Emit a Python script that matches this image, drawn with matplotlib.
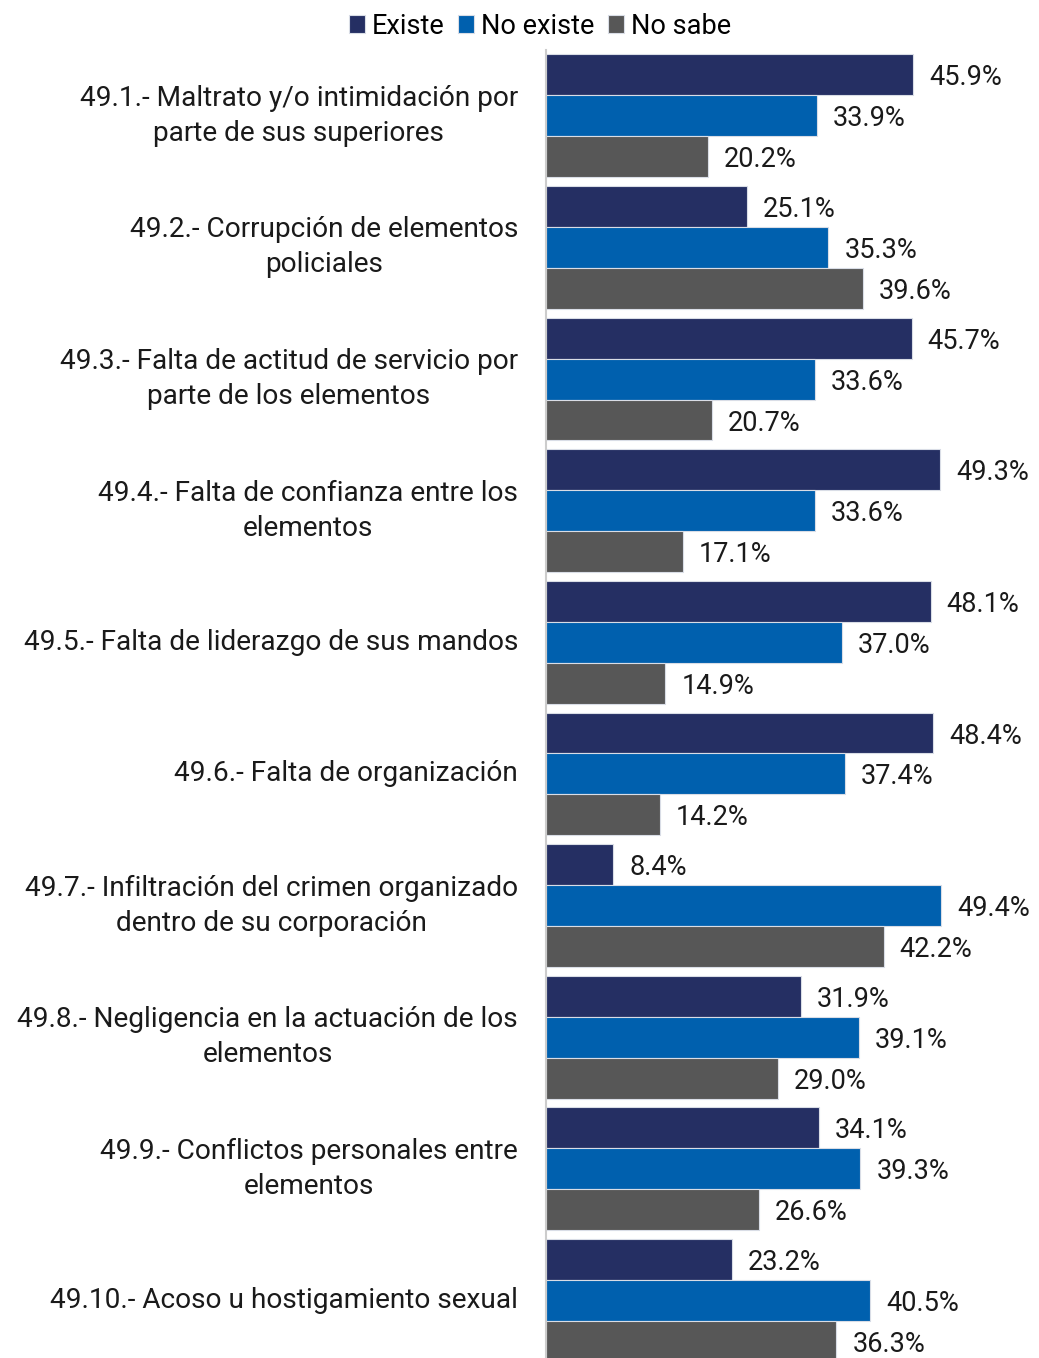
import matplotlib.pyplot as plt
import numpy as np

categories = [
    '49.1.- Maltrato y/o intimidación por\nparte de sus superiores',
    '49.2.- Corrupción de elementos\npoliciales',
    '49.3.- Falta de actitud de servicio por\nparte de los elementos',
    '49.4.- Falta de confianza entre los\nelementos',
    '49.5.- Falta de liderazgo de sus mandos',
    '49.6.- Falta de organización',
    '49.7.- Infiltración del crimen organizado\ndentro de su corporación',
    '49.8.- Negligencia en la actuación de los\nelementos',
    '49.9.- Conflictos personales entre\nelementos',
    '49.10.- Acoso u hostigamiento sexual',
]
existe = [45.9, 25.1, 45.7, 49.3, 48.1, 48.4, 8.4, 31.9, 34.1, 23.2]
no_existe = [33.9, 35.3, 33.6, 33.6, 37.0, 37.4, 49.4, 39.1, 39.3, 40.5]
no_sabe = [20.2, 39.6, 20.7, 17.1, 14.9, 14.2, 42.2, 29.0, 26.6, 36.3]

series = [('Existe', existe, '#252F63'),
          ('No existe', no_existe, '#0060AE'),
          ('No sabe', no_sabe, '#575757')]

plt.rcParams['font.family'] = ['Roboto', 'DejaVu Sans']
FS = 19.5

W, H = 1039, 1358
fig = plt.figure(figsize=(W / 100, H / 100), dpi=100)
ax = fig.add_axes([546 / W, 0, (W - 546) / W, (H - 50) / H])

y = np.arange(len(categories))
h = 0.311
for k, (name, vals, col) in enumerate(series):
    pos = y + (k - 1) * h
    ax.barh(pos, vals, height=h, color=col, edgecolor='#d9dde6',
            linewidth=0.8, label=name)
    for p, v in zip(pos, vals):
        ax.annotate('%.1f%%' % v, xy=(v, p), xytext=(16, -3),
                    textcoords='offset pixels', va='center', ha='left',
                    fontsize=FS, color='#1a1a1a')

ax.set_xlim(0, (W - 546) / 8.0)
ax.set_ylim(9.437, -0.5)
ax.set_xticks([])
ax.set_yticks([])
for s in ['top', 'right', 'bottom']:
    ax.spines[s].set_visible(False)
ax.spines['left'].set_color('#cccccc')
ax.spines['left'].set_linewidth(1.5)

for yi, lab in zip(y, categories):
    ax.annotate(lab, xy=(0, yi), xycoords=('axes fraction', 'data'),
                xytext=(-28, 0), textcoords='offset pixels',
                ha='right', va='center', multialignment='center',
                fontsize=20.2, color='#1a1a1a', linespacing=1.38)

fig.legend(loc='center', bbox_to_anchor=(540 / W, 1 - 26 / H),
           ncol=3, frameon=False, fontsize=FS, handlelength=0.6,
           handleheight=0.6, handletextpad=0.25, columnspacing=0.5,
           borderaxespad=0)

fig.savefig('out.png', dpi=100)
